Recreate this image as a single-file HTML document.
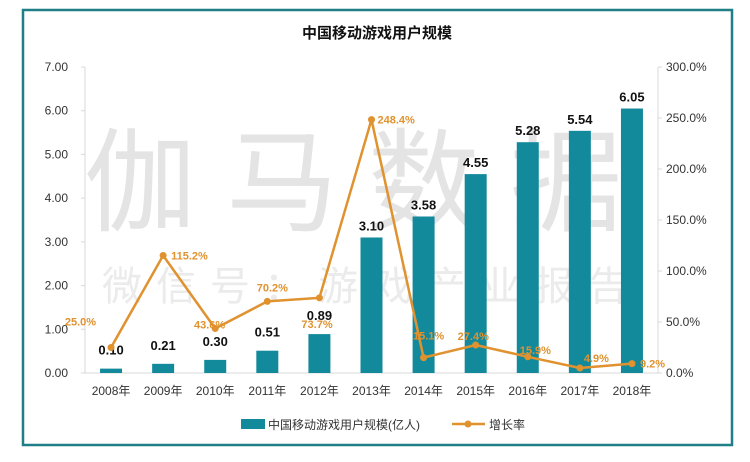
<!DOCTYPE html>
<html><head><meta charset="utf-8"><style>
body{margin:0;background:#fff;width:750px;height:457px;overflow:hidden}
svg{font-family:"Liberation Sans","Noto Sans CJK SC",sans-serif}
</style></head><body>
<svg id="c" width="750" height="457">
<rect x="23" y="10" width="709" height="435" fill="#fff" stroke="#1f7f86" stroke-width="2.5"/>
<text x="377" y="38" text-anchor="middle" font-size="15" font-weight="bold" fill="#111">中国移动游戏用户规模</text>
<text x="368" y="222" text-anchor="middle" font-size="112" fill="#e4e4e4" letter-spacing="30">伽马数据</text>
<text x="372" y="300" text-anchor="middle" font-size="40" fill="#ebebeb" letter-spacing="14">微信号：游戏产业报告</text>
<g id="g"></g>
</svg>
<script>
const categories=["2008年","2009年","2010年","2011年","2012年","2013年","2014年","2015年","2016年","2017年","2018年"];
const users=[0.10,0.21,0.30,0.51,0.89,3.10,3.58,4.55,5.28,5.54,6.05];
const growth=[25.0,115.2,43.6,70.2,73.7,248.4,15.1,27.4,15.9,4.9,9.2];
const leftTicks=[0,1,2,3,4,5,6,7];
const rightTicks=[0,50,100,150,200,250,300];
// label offsets (layout only)
const gOff=[[-15,-22,'end'],[8,4,'start'],[10,0,'end'],[5,-10,'middle'],[-18,30,'start'],[6,4,'start'],[5,-18,'middle'],[-18,-5,'start'],[-8,-3,'start'],[4,-6,'start'],[8,4,'start']];
const NS="http://www.w3.org/2000/svg";
const g=document.getElementById('g');
const x0=85,x1=658,yb=373,yt=67;
const step=(x1-x0)/categories.length;
const xs=i=>x0+step*(i+0.5);
const yL=v=>yb-(v/7)*(yb-yt);
const yR=v=>yb-(v/300)*(yb-yt);
function el(t,a,txt){const e=document.createElementNS(NS,t);for(const k in a)e.setAttribute(k,a[k]);if(txt!=null)e.textContent=txt;g.appendChild(e);return e;}
let e=el('line',{x1:x0,y1:yt,x2:x0,y2:yb,stroke:'#d9d9d9'});


e=el('line',{x1:x1,y1:yt,x2:x1,y2:yb,stroke:'#d9d9d9'});


e=el('line',{x1:x0,y1:yb,x2:x1,y2:yb,stroke:'#d9d9d9'});


leftTicks.forEach(v=>{
  e=el('text',{x:68,y:yL(v)+4,'text-anchor':'end','font-size':12,fill:'#333'},v.toFixed(2));
  
  
  el('line',{x1:x0-4,y1:yL(v),x2:x0,y2:yL(v),stroke:'#d9d9d9'});
});
rightTicks.forEach(v=>{
  e=el('text',{x:666,y:yR(v)+4,'font-size':12,fill:'#333'},v.toFixed(1)+'%');
  
  
  el('line',{x1:x1,y1:yR(v),x2:x1+4,y2:yR(v),stroke:'#d9d9d9'});
});
categories.forEach((c,i)=>{
  e=el('text',{x:xs(i),y:yb+22,'text-anchor':'middle','font-size':12,fill:'#333'},c);
  
  
  e=el('rect',{x:xs(i)-11,y:yL(users[i]),width:22,height:yb-yL(users[i]),fill:'#138a9c'});
  
  
  e=el('text',{x:xs(i),y:yL(users[i])-(i<5?14:7),'text-anchor':'middle','font-size':13,'font-weight':'bold',fill:'#111'},users[i].toFixed(2));
  
  
});
const pts=growth.map((v,i)=>xs(i)+','+yR(v)).join(' ');
e=el('polyline',{points:pts,fill:'none',stroke:'#e0922f','stroke-width':2.5});


growth.forEach((v,i)=>{
  e=el('circle',{cx:xs(i),cy:yR(v),r:3.5,fill:'#e0922f'});
  
  
  const o=gOff[i];
  e=el('text',{x:xs(i)+o[0],y:yR(v)+o[1],'text-anchor':o[2],'font-size':11,'font-weight':'bold',fill:'#e0922f'},v.toFixed(1)+'%');
  
  
});
e=el('rect',{x:241,y:419,width:24,height:10,fill:'#138a9c'});


e=el('text',{x:268,y:429,'font-size':12,fill:'#333'},'中国移动游戏用户规模(亿人)');


e=el('line',{x1:452,y1:424,x2:485,y2:424,stroke:'#e0922f','stroke-width':2.5});


el('circle',{cx:468,cy:424,r:3.5,fill:'#e0922f'});
e=el('text',{x:489,y:429,'font-size':12,fill:'#333'},'增长率');


</script>
</body></html>
